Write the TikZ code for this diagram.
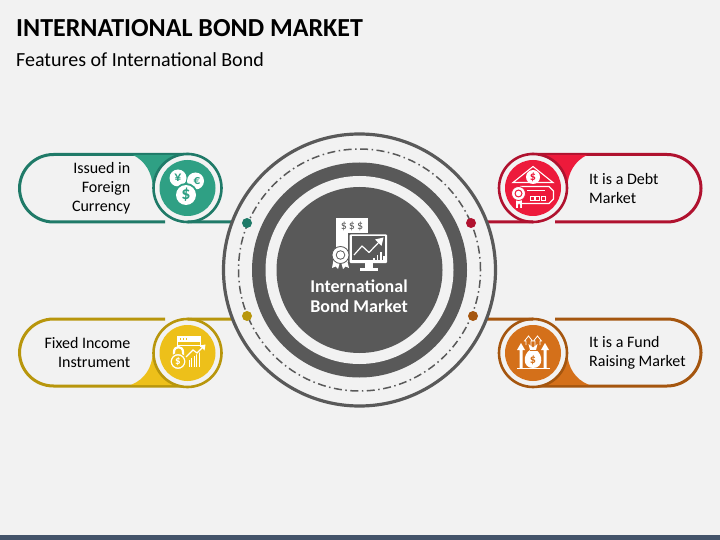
\documentclass[tikz,border=0pt]{standalone}
\usepackage{fontspec}
\setmainfont{Carlito}
\definecolor{bgc}{HTML}{F2F2F2}
\definecolor{barc}{HTML}{44546A}
\definecolor{greyc}{HTML}{595959}
\definecolor{tealf}{HTML}{2FA084}
\definecolor{teald}{HTML}{1F7A68}
\definecolor{redf}{HTML}{ED1A3B}
\definecolor{redd}{HTML}{B0122F}
\definecolor{goldf}{HTML}{EDC01A}
\definecolor{goldd}{HTML}{B8960C}
\definecolor{orgf}{HTML}{D4701A}
\definecolor{orgd}{HTML}{A5560F}
\tikzset{
  disc/.style={circle,inner sep=0pt,outer sep=0pt,minimum size=#1},
  lab/.style={font=\fontsize{16bp}{19bp}\selectfont,text=black,inner sep=0pt},
  ico/.style={draw=white,line width=1.1bp,fill=none},
  icof/.style={fill=white,draw=none},
  pill/.style={line width=3bp,rounded corners=34bp},
  conn/.style={line width=3bp},
}
\newcommand{\badge}[4]{% name, x, y, colours
  \node[disc=68bp,fill=bgc,draw=#4d,line width=2.6bp] (#1) at (#2,#3) {};
  \node[disc=56bp,fill=#4f] (#1f) at (#2,#3) {};
}
\begin{document}
\begin{tikzpicture}[x=1bp,y=-1bp]
\useasboundingbox (0,0) rectangle (720,540);
\fill[bgc] (0,0) rectangle (720,540);
\fill[barc] (0,535) rectangle (720,540);
\node[anchor=base west,inner sep=0pt,font=\fontsize{26bp}{28bp}\selectfont\bfseries] (title) at (16,37) {INTERNATIONAL BOND MARKET};
\node[anchor=base west,inner sep=0pt,font=\fontsize{20bp}{22bp}\selectfont] (sub) at (16,66.5) {Features of International Bond};

% ---- anchors for connector ends
\coordinate (tlend) at (235,222);
\coordinate (trend) at (484,222);
\coordinate (blend) at (235,319);
\coordinate (brend) at (484,319);

% ---- pills
\draw[pill,draw=teald] (165,222) -- (19.5,222) -- (19.5,154.5) -- (190,154.5);
\fill[tealf] (133,155) .. controls (145,161) and (152,172) .. (153,188) -- (188,188) -- (188,155) -- cycle;
\draw[pill,draw=goldd] (165,319) -- (19.5,319) -- (19.5,386) -- (190,386);
\fill[goldf] (131,385) .. controls (145,379) and (152,368) .. (153,352) -- (188,352) -- (188,385) -- cycle;
\draw[pill,draw=redd] (555,222) -- (701,222) -- (701,154.5) -- (530,154.5);
\fill[redf] (587,155) .. controls (575,161) and (568,172) .. (567,188) -- (533,188) -- (533,155) -- cycle;
\draw[pill,draw=orgd] (555,319) -- (701,319) -- (701,386) -- (530,386);
\fill[orgf] (589,385) .. controls (575,379) and (568,368) .. (567,352) -- (533,352) -- (533,385) -- cycle;

% ---- badges
\badge{tl}{187.5}{188}{teal}
\badge{bl}{187.5}{353}{gold}
\badge{tr}{533}{188}{red}
\badge{br}{533}{353}{org}

% ---- connectors
\draw[conn,teald] (tl.south) -- (tlend);
\draw[conn,goldd] (bl.north) -- (blend);
\draw[conn,redd] (tr.south) -- (trend);
\draw[conn,orgd] (br.north) -- (brend);

% ---- centre
\node[disc=272bp,draw=greyc,line width=3.2bp,fill=bgc] (outer) at (359.5,270) {};
\draw[greyc,line width=1.5bp,dash pattern=on 8bp off 3.5bp on 1.5bp off 3.5bp] (359.5,270) circle[radius=121bp];
\node[disc=215bp,fill=greyc] (band) at (359.5,270) {};
\node[disc=188bp,fill=bgc] (gap) at (359.5,270) {};
\node[disc=166bp,fill=greyc] (core) at (359.5,270) {};

% ---- dots
\node[disc=10bp,fill=teald] (d1) at (247,223) {};
\node[disc=10bp,fill=redd] (d2) at (471,223) {};
\node[disc=10bp,fill=goldd] (d3) at (247,316) {};
\node[disc=10bp,fill=orgd] (d4) at (473,316) {};

% ---- labels
\node[lab,anchor=east,align=right] (t1) at (130.5,188.5) {Issued in\\Foreign\\Currency};
\node[lab,anchor=east,align=right] (t2) at (130.5,352.5) {Fixed Income\\Instrument};
\node[lab,anchor=west,align=left] (t3) at (589,189) {It is a Debt\\Market};
\node[lab,anchor=west,align=left] (t4) at (589,352.5) {It is a Fund\\Raising Market};
\node[anchor=center,align=center,text=white,inner sep=0pt,font=\fontsize{18bp}{19.5bp}\selectfont\bfseries] (t0) at (359,296) {International\\Bond Market};

% ---- centre icon
\fill[white] (336,218) rectangle (368,262);
\node[text=greyc,inner sep=0pt,font=\fontsize{12bp}{12bp}\selectfont] (dollars) at (352,226.5) {\$\,\$\,\$};
\draw[fill=greyc,draw=greyc,line width=1bp] (348.5,233.5) rectangle (387.5,264);
\fill[white,rounded corners=1bp] (349.5,234.5) rectangle (387,263);
\fill[greyc] (351.5,236.5) rectangle (385,260.5);
\draw[white,line width=1.2bp,line join=round] (354,255) -- (362,246) -- (369,252.5) -- (381,240);
\fill[white] (383.5,237.5) -- (375,239.5) -- (381.5,246) -- cycle;
\foreach \xx/\yy in {374/258,377.5/255,381/252,384/256}{\fill[white] (\xx-0.7,260) rectangle (\xx+0.7,\yy);}
\fill[white] (365,263) rectangle (373,268);
\fill[white] (360,268) rectangle (378,271);
\fill[white] (333.5,260) -- (332,268) -- (335.5,266.5) -- (338,269) -- (340,262) -- cycle;
\fill[white] (341,262) -- (343,269) -- (345.5,266.5) -- (349,268) -- (347,260) -- cycle;
\node[disc=17bp,fill=white,draw=greyc,line width=0.8bp] (seal) at (340.5,255) {};
\node[disc=9.5bp,fill=greyc] (sealin) at (340.5,255) {};
\node[disc=7.5bp,fill=white] (sealc) at (340.5,255) {};

% ---- teal icon
\node[disc=17bp,fill=white] (c2) at (195.5,181) {};
\node[text=tealf,inner sep=0pt,font=\fontsize{13bp}{12bp}\selectfont\bfseries] (eu) at (197,181) {€};
\node[disc=17bp,fill=white] (c1) at (178,178) {};
\node[text=tealf,inner sep=0pt,font=\fontsize{14bp}{12bp}\selectfont\bfseries] (yen) at (178,178) {¥};
\node[disc=24bp,fill=tealf] (c3h) at (186,195) {};
\node[disc=20bp,fill=white] (c3) at (186,195) {};
\node[text=tealf,inner sep=0pt,font=\fontsize{18bp}{18bp}\selectfont\bfseries] (usd) at (186,195) {\$};

% ---- red icon
\draw[ico,line join=miter] (513,182.5) -- (533,166.5) -- (553,182.5) -- cycle;
\node[disc=14bp,fill=white] (rc) at (533,177) {};
\node[text=redf,inner sep=0pt,font=\fontsize{12bp}{12bp}\selectfont\bfseries] (rd) at (533,177) {\$};
\draw[ico] (520,186.5) -- (549,186.5) -- (553.5,191) -- (553.5,199) -- (549,203.5) -- (522,203.5);
\draw[white,line width=0.9bp] (527,190) -- (545,190);
\foreach \xx in {530,535.5,541}{\draw[white,line width=0.9bp] (\xx,196) rectangle +(4,4);}
\fill[white] (516,200) rectangle (522,208.5);
\fill[redf] (518,205) -- (519,203.5) -- (520,205) -- (520,208.5) -- (518,208.5) -- cycle;
\node[disc=14bp,fill=white,draw=redf,line width=0.8bp] (rs) at (518.5,193.5) {};
\node[disc=8bp,fill=redf] (rs2) at (518.5,193.5) {};
\node[disc=5.5bp,fill=white] (rs3) at (518.5,193.5) {};

% ---- gold icon
\fill[white] (177,336) rectangle (200.5,341.5);
\foreach \xx in {179.5,182.5,185.5}{\fill[goldf] (\xx,338) rectangle +(1.5,1.5);}
\draw[white,line width=1bp] (177.5,342) -- (177.5,347) (200,342) -- (200,347) (177.5,345) -- (200,345);
\draw[white,line width=2.2bp] (174,360) -- (174,352) .. controls (174,345.5) and (183,345.5) .. (183,352) -- (183,360);
\foreach \xx/\yy in {189/354,191.5/352,194/350,196.5/346,199/343}{\draw[white,line width=1bp] (\xx,\yy+6) -- (\xx,367);}
\draw[goldf,line width=2.6bp] (186,357) -- (193,350) -- (197,353) -- (204,346);
\draw[white,line width=1.2bp] (186,357) -- (193,350) -- (197,353) -- (204,346);
\fill[white] (205.5,344.5) -- (199.5,345.5) -- (204.5,350.5) -- cycle;
\node[disc=16bp,fill=white,draw=goldf,line width=0.9bp] (gc) at (178,361.5) {};
\node[disc=12bp,fill=goldf] (gc2) at (178,361.5) {};
\node[text=white,inner sep=0pt,font=\fontsize{11bp}{12bp}\selectfont\bfseries] (gd) at (178,361.5) {\$};

% ---- orange icon
\draw[white,line width=0.8bp] (526,345) -- (526,341) -- (524.5,341) -- (528.5,336) -- (532.5,341) -- (531,341) -- (531,347);
\draw[white,line width=0.8bp] (535,347) -- (535,341) -- (533.5,341) -- (537.5,336) -- (541.5,341) -- (540,341) -- (540,345);
\fill[white] (519.5,368) -- (519.5,350) -- (517,350) -- (521,343) -- (525,350) -- (522.5,350) -- (522.5,368) -- cycle;
\fill[white] (543.5,368) -- (543.5,350) -- (541,350) -- (545,343) -- (549,350) -- (546.5,350) -- (546.5,368) -- cycle;
\fill[white] (517,367.5) rectangle (550,368.7);
\fill[white] (528.5,344) -- (533,347.5) -- (537.5,344) -- (536,350) .. controls (543,354) and (544,368) .. (533,368) .. controls (522,368) and (523,354) .. (530,350) -- cycle;
\draw[orgf,line width=0.8bp] (529.5,350) -- (536.5,350);
\node[text=orgf,inner sep=0pt,font=\fontsize{12bp}{12bp}\selectfont\bfseries] (od) at (533,360) {\$};
\end{tikzpicture}
\end{document}
